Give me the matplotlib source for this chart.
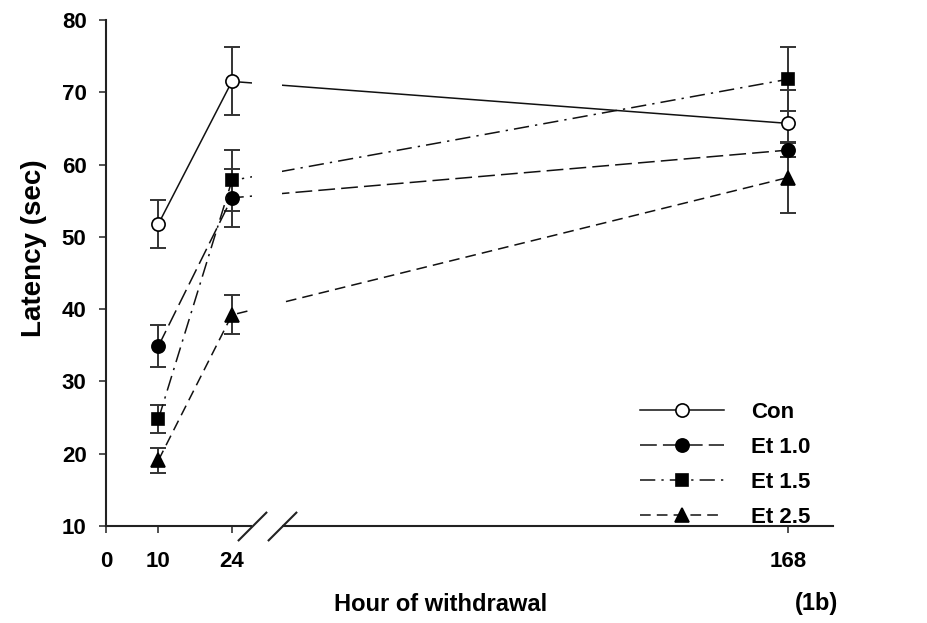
import matplotlib
matplotlib.use("Agg")
import matplotlib.pyplot as plt
import matplotlib.transforms as mtransforms
import numpy as np

plt.rcParams['font.family'] = ['Liberation Sans', 'DejaVu Sans']
plt.rcParams['font.weight'] = 'bold'

hours = [10, 24, 168]
groups = ['Con', 'Et 1.0', 'Et 1.5', 'Et 2.5']
latency = {
    'Con':    [51.8, 71.5, 65.7],
    'Et 1.0': [34.9, 55.4, 62.0],
    'Et 1.5': [24.8, 57.8, 71.8],
    'Et 2.5': [19.1, 39.2, 58.2],
}
sem = {
    'Con':    [3.3, 4.7, 4.6],
    'Et 1.0': [2.9, 4.0, 1.0],
    'Et 1.5': [2.0, 4.2, 4.4],
    'Et 2.5': [1.7, 2.7, 4.9],
}
xticks = [0, 10, 24, 168]
yticks = [10, 20, 30, 40, 50, 60, 70, 80]

styles = {
    'Con':    dict(marker='o', mfc='white', ls='-'),
    'Et 1.0': dict(marker='o', mfc='black', ls=(0, (11, 4))),
    'Et 1.5': dict(marker='s', mfc='black', ls=(0, (10, 4, 1.5, 4))),
    'Et 2.5': dict(marker='^', mfc='black', ls=(0, (7, 4))),
}

# compress everything past 24 h so 168 fits on the same axis
SQUEEZE = 0.7355


def fwd(h):
    h = np.asarray(h, dtype=float)
    return np.where(h <= 24, h, 24 + (h - 24) * SQUEEZE)


def inv(u):
    u = np.asarray(u, dtype=float)
    return np.where(u <= 24, u, 24 + (u - 24) / SQUEEZE)


break_lo, break_hi = 29.2, 36.9

fig = plt.figure(figsize=(9.28, 6.23), dpi=100)
ax = fig.add_axes([0.1142, 0.1557, 0.7834, 0.8122])
ax.set_xscale('function', functions=(fwd, inv))

handles = []
for g in groups:
    st = styles[g]
    ax.errorbar(hours, latency[g], yerr=sem[g], fmt='none', ecolor='#333333',
                elinewidth=1.4, capsize=6, capthick=1.4, zorder=2)
    line, = ax.plot(hours, latency[g], color='#111111', lw=1.1, ls=st['ls'],
                    marker=st['marker'], mfc=st['mfc'], mec='black', mew=1.2,
                    ms=9.5 if st['marker'] != 's' else 8.5, zorder=3, label=g)
    handles.append(line)

ax.set_xlim(0, 179.7)
ax.set_ylim(10, 80)
ax.set_xticks(xticks)
ax.set_xticklabels([str(t) for t in xticks])
ax.set_yticks(yticks)
ax.tick_params(axis='both', direction='out', length=5, width=1.2,
               labelsize=16, color='#333333')
ax.tick_params(axis='x', pad=13)
ax.tick_params(axis='y', pad=9)
for lab in ax.get_xticklabels() + ax.get_yticklabels():
    lab.set_fontweight('bold')

for side in ['top', 'right']:
    ax.spines[side].set_visible(False)
for side in ['left', 'bottom']:
    ax.spines[side].set_linewidth(1.5)
    ax.spines[side].set_color('#222222')

# axis break: blank strip plus two slashes
ax.axvspan(break_lo, break_hi, ymin=-0.03, ymax=1.0, color='white',
           zorder=4, clip_on=False, lw=0)
trans = mtransforms.blended_transform_factory(ax.transData, ax.transAxes)
ax.plot([break_lo, break_hi], [0, 0], transform=trans, ls='none',
        marker=[(-1, -1), (1, 1)], ms=21, mec='#222222', mew=1.5,
        clip_on=False, zorder=5)

ax.legend(handles=handles, loc='upper left', bbox_to_anchor=(0.707, 0.285),
          frameon=False, handlelength=3.8, handletextpad=1.2,
          labelspacing=0.63, prop={'size': 16, 'weight': 'bold'})

fig.text(0.037, 0.602, 'Latency (sec)', fontsize=20, fontweight='bold',
         rotation=90, ha='center', va='center')
fig.text(0.475, 0.029, 'Hour of withdrawal', fontsize=17, fontweight='bold',
         ha='center', va='center')
fig.text(0.903, 0.031, '(1b)', fontsize=17, fontweight='bold',
         ha='right', va='center')

fig.savefig('out.png', dpi=100)
